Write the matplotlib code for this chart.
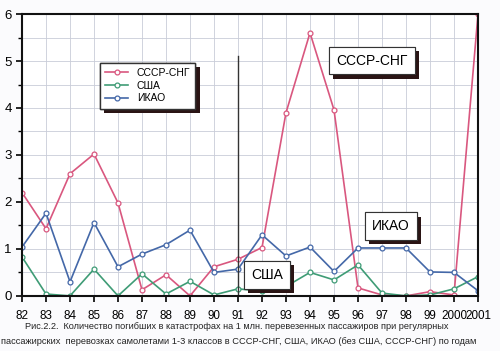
import matplotlib.pyplot as plt
import matplotlib.patheffects as pe
from matplotlib.ticker import MultipleLocator

plt.rcParams["font.family"] = ["Liberation Sans", "DejaVu Sans"]

years = ["82", "83", "84", "85", "86", "87", "88", "89", "90", "91",
         "92", "93", "94", "95", "96", "97", "98", "99", "2000", "2001"]
sssr = [2.2, 1.43, 2.6, 3.02, 1.98, 0.13, 0.45, 0.0, 0.62, 0.78,
        1.03, 3.9, 5.6, 3.96, 0.17, 0.02, 0.0, 0.09, 0.02, 6.0]
usa = [0.83, 0.04, 0.0, 0.57, 0.0, 0.47, 0.04, 0.31, 0.02, 0.15,
       0.1, 0.2, 0.5, 0.34, 0.66, 0.06, 0.0, 0.02, 0.15, 0.41]
icao = [1.04, 1.76, 0.3, 1.56, 0.62, 0.89, 1.09, 1.4, 0.5, 0.57,
        1.3, 0.85, 1.04, 0.52, 1.02, 1.02, 1.02, 0.51, 0.5, 0.11]

c_sssr = "#d9577f"
c_usa = "#3f9c76"
c_icao = "#4468a8"
shadow_c = "#2a1414"

x = list(range(len(years)))

fig = plt.figure(figsize=(5, 3.51), dpi=100)
ax = fig.add_axes([0.044, 0.157, 0.912, 0.803])

mk = dict(marker="o", markersize=3.5, markerfacecolor="white", markeredgewidth=0.9, linewidth=1.2)
ax.plot(x, sssr, color=c_sssr, label="СССР-СНГ", **mk)
ax.plot(x, usa, color=c_usa, label="США", **mk)
ax.plot(x, icao, color=c_icao, label="ИКАО", **mk)

# vertical marker at 1991
ax.plot([9, 9], [0, 5.1], color="#333333", linewidth=1.0)

ax.set_xlim(0, len(years) - 1)
ax.set_ylim(0, 6)
ax.set_xticks(x)
ax.set_xticklabels(years, fontsize=8.4)
ax.set_yticks(range(7))
ax.yaxis.set_minor_locator(MultipleLocator(0.5))
ax.tick_params(axis="y", labelsize=9.5, direction="out", length=4, width=1.2)
ax.tick_params(axis="y", which="minor", length=3, width=1)
ax.tick_params(axis="x", direction="out", length=4, width=1.2, pad=6)
ax.grid(True, which="both", color="#c9ccd8", linewidth=0.6)
for s in ax.spines.values():
    s.set_linewidth(1.5)
    s.set_color("#111111")

shadow = [pe.withSimplePatchShadow(offset=(3, -3), shadow_rgbFace=shadow_c, alpha=1), pe.Normal()]

leg = ax.legend(loc="upper left", bbox_to_anchor=(0.16, 0.845), fontsize=7.5,
                fancybox=False, framealpha=1, edgecolor="#333333",
                handlelength=2.2, borderpad=0.5, labelspacing=0.25)
leg.get_frame().set_path_effects(shadow)

for txt, xx, yy in [("СССР-СНГ", 14.58, 5.01), ("ИКАО", 15.38, 1.48), ("США", 10.2, 0.44)]:
    t = ax.text(xx, yy, txt, fontsize=10, ha="center", va="center", zorder=5,
                bbox=dict(boxstyle="square,pad=0.5", facecolor="white", edgecolor="#333333", linewidth=0.8))
    t.get_bbox_patch().set_path_effects(shadow)

fig.text(0.05, 0.063, "Рис.2.2.  Количество погибших в катастрофах на 1 млн. перевезенных пассажиров при регулярных",
         fontsize=6.6, ha="left", color="#222222")
fig.text(0.002, 0.02, "пассажирских  перевозках самолетами 1-3 классов в СССР-СНГ, США, ИКАО (без США, СССР-СНГ) по годам",
         fontsize=6.7, ha="left", color="#222222")

fig.savefig("out.png", dpi=100, facecolor="#fbfbfd")
